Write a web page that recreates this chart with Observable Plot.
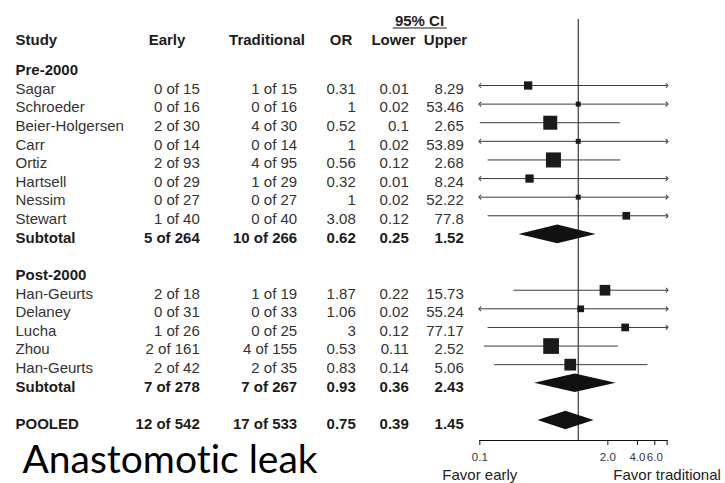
<!DOCTYPE html>
<html>
<head>
<meta charset="utf-8">
<script src="https://cdn.jsdelivr.net/npm/d3@7"></script>
<script src="https://cdn.jsdelivr.net/npm/@observablehq/plot@0.6"></script>
<style>
  html, body { margin: 0; padding: 0; background: #fff; }
  #chart { position: relative; width: 725px; height: 483px; overflow: hidden; background: #fff; }
  #chart svg { position: absolute; left: 0; top: 0; }
  #chart svg text { font-variant-ligatures: none; }
</style>
</head>
<body>
<div id="chart"></div>
<script>
// ---- Individual trials ----
const study = ["Sagar", "Schroeder", "Beier-Holgersen", "Carr", "Ortiz", "Hartsell", "Nessim", "Stewart",
               "Han-Geurts", "Delaney", "Lucha", "Zhou", "Han-Geurts"];
const period = ["Pre-2000", "Pre-2000", "Pre-2000", "Pre-2000", "Pre-2000", "Pre-2000", "Pre-2000", "Pre-2000",
                "Post-2000", "Post-2000", "Post-2000", "Post-2000", "Post-2000"];
const earlyEvents = [0, 0, 2, 0, 2, 0, 0, 1, 2, 0, 1, 2, 2];
const earlyTotal  = [15, 16, 30, 14, 93, 29, 27, 40, 18, 31, 26, 161, 42];
const tradEvents  = [1, 0, 4, 0, 4, 1, 0, 0, 1, 0, 0, 4, 2];
const tradTotal   = [15, 16, 30, 14, 95, 29, 27, 40, 19, 33, 25, 155, 35];
const oddsRatio   = [0.31, 1, 0.52, 1, 0.56, 0.32, 1, 3.08, 1.87, 1.06, 3, 0.53, 0.83];
const ciLower     = [0.01, 0.02, 0.1, 0.02, 0.12, 0.01, 0.02, 0.12, 0.22, 0.02, 0.12, 0.11, 0.14];
const ciUpper     = [8.29, 53.46, 2.65, 53.89, 2.68, 8.24, 52.22, 77.8, 15.73, 55.24, 77.17, 2.52, 5.06];
const weight      = [5.3, 1.9, 15.1, 1.9, 17.4, 5.3, 1.9, 4.6, 8.8, 3.5, 4.6, 19.0, 10.6]; // % weight

// ---- Pooled estimates ----
const summaryLabel       = ["Subtotal", "Subtotal", "POOLED"];
const summaryScope       = ["Pre-2000", "Post-2000", "All"];
const summaryEarlyEvents = [5, 7, 12];
const summaryEarlyTotal  = [264, 278, 542];
const summaryTradEvents  = [10, 7, 17];
const summaryTradTotal   = [266, 267, 533];
const summaryOR          = [0.62, 0.93, 0.75];
const summaryLower       = [0.25, 0.36, 0.39];
const summaryUpper       = [1.52, 2.43, 1.45];

// ---- Labels ----
const columnHeaders = ["Study", "Early", "Traditional", "OR", "Lower", "Upper"];
const ciHeader = "95% CI";
const tickValues = [0.1, 2, 4, 6, 8];
const tickLabels = ["0.1", "2.0", "4.0", "6.0", ""];
const favorLabels = ["Favor early", "Favor traditional"];
const caption = "Anastomotic leak";

// ---- Build table rows (one row index per line of the table) ----
const of = (e, n) => `${e} of ${n}`;
const rows = [];
const headings = [];
let r = -1;
for (const p of [...new Set(period)]) {
  headings.push({row: r++, text: p});
  study.forEach((s, i) => {
    if (period[i] !== p) return;
    rows.push({row: r++, bold: false, label: s,
      early: of(earlyEvents[i], earlyTotal[i]), trad: of(tradEvents[i], tradTotal[i]),
      or: oddsRatio[i], lower: ciLower[i], upper: ciUpper[i], weight: weight[i]});
  });
  const j = summaryScope.indexOf(p);
  rows.push({row: r++, bold: true, summary: true, label: summaryLabel[j],
    early: of(summaryEarlyEvents[j], summaryEarlyTotal[j]), trad: of(summaryTradEvents[j], summaryTradTotal[j]),
    or: summaryOR[j], lower: summaryLower[j], upper: summaryUpper[j]});
  r++; // blank line between groups
}
{
  const j = summaryScope.indexOf("All");
  rows.push({row: r, bold: true, summary: true, label: summaryLabel[j],
    early: of(summaryEarlyEvents[j], summaryEarlyTotal[j]), trad: of(summaryTradEvents[j], summaryTradTotal[j]),
    or: summaryOR[j], lower: summaryLower[j], upper: summaryUpper[j]});
}
const trials = rows.filter(d => !d.summary);
const summaries = rows.filter(d => d.summary);

// ---- Shared layout ----
const W = 725, H = 483;
const yScale = {domain: [0, 18], range: [85, 420], axis: null};
const font = "'Liberation Sans', Arial, Helvetica, sans-serif";
const textDy = 3.5;
const normalInk = "#333", boldInk = "#1c1c1c";

// Table columns: text anchor position and alignment of body and header cells
const columns = [
  {key: "label", x: 15,    anchor: "start", hx: 15,    hanchor: "start"},
  {key: "early", x: 199.3, anchor: "end",   hx: 166.5, hanchor: "middle"},
  {key: "trad",  x: 296.7, anchor: "end",   hx: 266.5, hanchor: "middle"},
  {key: "or",    x: 355.3, anchor: "end",   hx: 340.5, hanchor: "middle"},
  {key: "lower", x: 408.3, anchor: "end",   hx: 393,   hanchor: "middle"},
  {key: "upper", x: 463.3, anchor: "end",   hx: 445,   hanchor: "middle"}
];
const headerRow = -2.6, ciRow = -3.67, ciRuleRow = -3.09;

const tableMarks = [];
columns.forEach((c, k) => {
  for (const bold of [false, true]) {
    tableMarks.push(Plot.text(rows.filter(d => d.bold === bold), {
      x: () => c.x, y: "row", text: d => String(d[c.key]),
      textAnchor: c.anchor, dy: textDy,
      fontWeight: bold ? "bold" : "normal", fill: bold ? boldInk : normalInk
    }));
  }
  tableMarks.push(Plot.text([columnHeaders[k]], {
    x: () => c.hx, y: () => headerRow, text: d => d,
    textAnchor: c.hanchor, dy: textDy, fontWeight: "bold", fill: boldInk
  }));
});
tableMarks.push(
  Plot.text(headings, {x: () => columns[0].x, y: "row", text: "text", textAnchor: "start",
    dy: textDy, fontWeight: "bold", fill: boldInk}),
  Plot.text([ciHeader], {x: () => (columns[4].hx + columns[5].hx) / 2, y: () => ciRow, text: d => d,
    textAnchor: "middle", dy: textDy, fontWeight: "bold", fill: boldInk}),
  Plot.ruleY([ciRuleRow], {x1: 392.7, x2: 446.7, stroke: boldInk, strokeWidth: 1.2}),
  Plot.text([caption], {frameAnchor: "bottom-left", lineAnchor: "bottom", text: d => d,
    fontSize: 39, fontFamily: "Lato, 'Open Sans', sans-serif", fill: "#000"})
);

const table = Plot.plot({
  width: W, height: H,
  marginLeft: 22, marginBottom: 11, marginTop: 0, marginRight: 0,
  style: {fontFamily: font, fontSize: "15px", background: "transparent"},
  x: {type: "identity", axis: null},
  y: yScale,
  marks: tableMarks
});

// ---- Forest plot ----
const xDomain = [0.1, 8];
const lineInk = "#3a3a3a", markInk = "#1a1a1a";
const clippedLow = d => d.lower < xDomain[0];
const clippedHigh = d => d.upper > xDomain[1];

// Diamond outline: lower tip, widest point at the estimate, upper tip
const diamondHalf = 0.5;
const diamonds = summaries.flatMap(d => [
  {row: d.row, x: d.lower, y1: d.row, y2: d.row},
  {row: d.row, x: d.or, y1: d.row - diamondHalf, y2: d.row + diamondHalf},
  {row: d.row, x: d.upper, y1: d.row, y2: d.row}
]);

const forest = Plot.plot({
  width: W, height: H,
  marginLeft: 479.3, marginRight: 58.4, marginTop: 19, marginBottom: 43,
  style: {fontFamily: font, fontSize: "15px", background: "transparent", overflow: "visible"},
  x: {type: "log", domain: xDomain, clamp: true, axis: null},
  y: yScale,
  r: {type: "sqrt", domain: [0, 19], range: [0, 8.86]},
  marks: [
    Plot.ruleX([1], {stroke: "#111", strokeWidth: 1}),
    // left half of each interval, with an arrow when it runs off the scale
    Plot.link(trials.filter(clippedLow), {x1: "or", x2: "lower", y1: "row", y2: "row", stroke: lineInk, markerEnd: "arrow"}),
    Plot.link(trials.filter(d => !clippedLow(d)), {x1: "or", x2: "lower", y1: "row", y2: "row", stroke: lineInk}),
    // right half
    Plot.link(trials.filter(clippedHigh), {x1: "or", x2: "upper", y1: "row", y2: "row", stroke: lineInk, markerEnd: "arrow"}),
    Plot.link(trials.filter(d => !clippedHigh(d)), {x1: "or", x2: "upper", y1: "row", y2: "row", stroke: lineInk}),
    Plot.dot(trials, {x: "or", y: "row", r: "weight", symbol: "square", fill: markInk, stroke: null}),
    Plot.areaY(diamonds, {x: "x", y1: "y1", y2: "y2", z: "row", fill: "#111", curve: "linear"}),
    Plot.frame({anchor: "bottom", stroke: "#111"}),
    // tick marks only; the tick labels are drawn below as text
    Plot.axisX({ticks: tickValues, tickFormat: () => "", tickSize: 5, stroke: "#111", label: null}),
    Plot.text(tickValues, {x: d => d, text: (d, i) => tickLabels[i], frameAnchor: "bottom",
      lineAnchor: "top", dy: 12, fontSize: 11.5, fill: "#2f3645"}),
    Plot.text(favorLabels, {x: (d, i) => xDomain[i], frameAnchor: "bottom", text: d => d,
      lineAnchor: "top", dy: 29, fontSize: 15, fill: "#222"})
  ]
});

const chart = document.getElementById("chart");
chart.append(table, forest);
</script>
</body>
</html>
